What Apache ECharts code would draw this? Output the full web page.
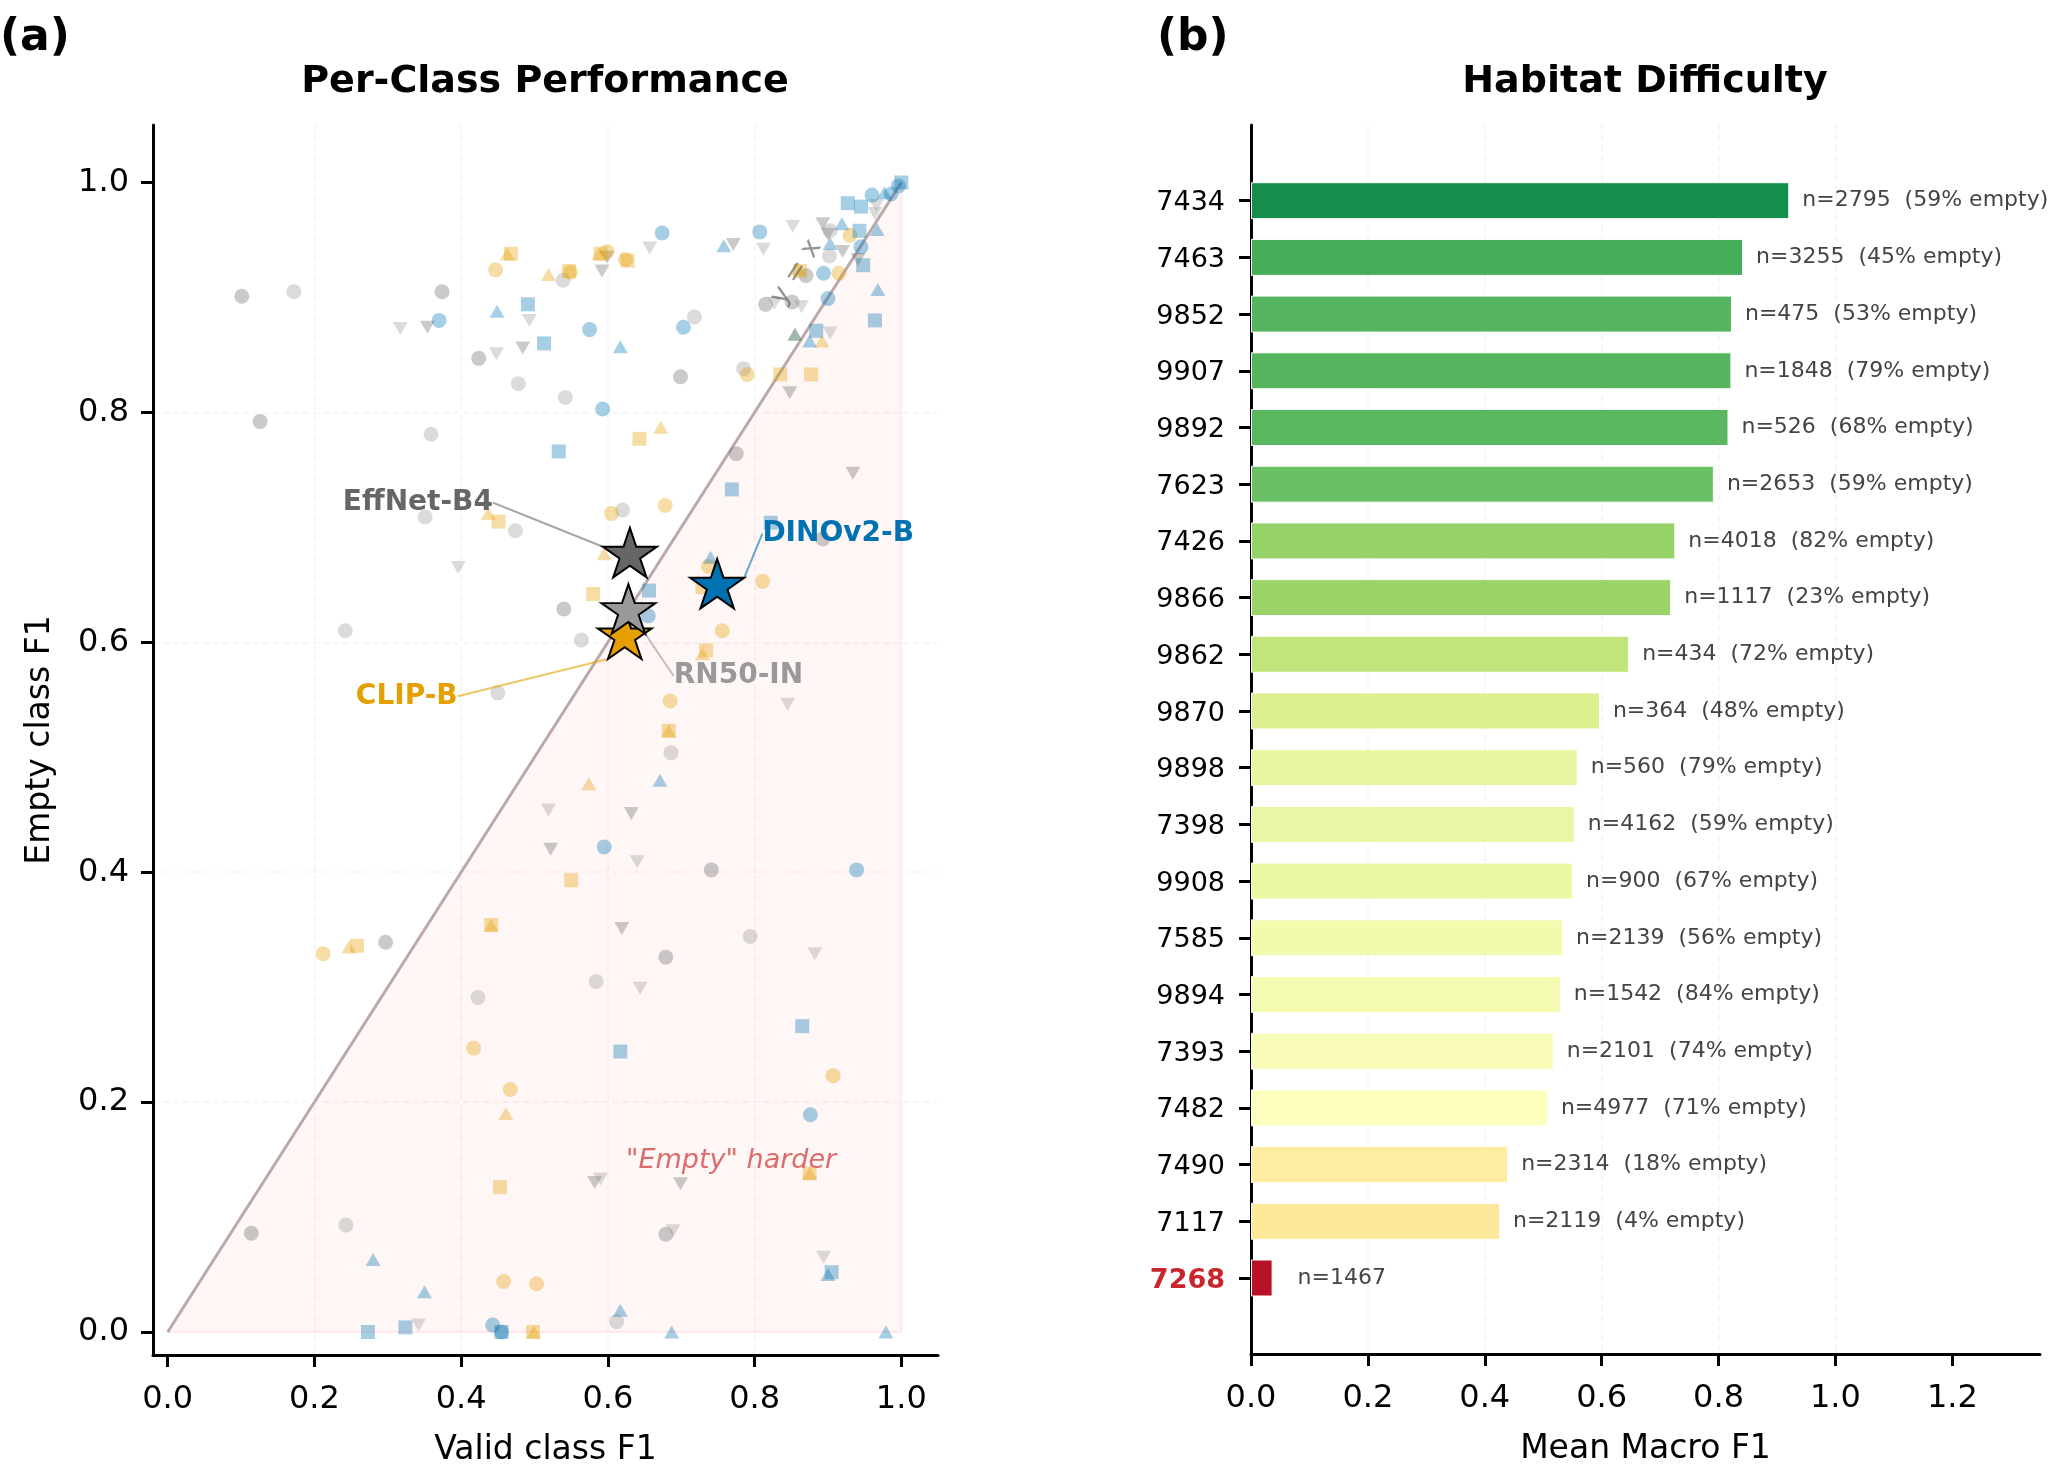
<!DOCTYPE html>
<html>
<head>
<meta charset="utf-8">
<title>Per-Class Performance / Habitat Difficulty</title>
<script src="https://cdn.jsdelivr.net/npm/echarts@6/dist/echarts.min.js"></script>
<style>
html, body { margin: 0; padding: 0; background: #fff; }
#chart { width: 2070px; height: 1478px; }
</style>
</head>
<body>
<div id="chart"></div>
<script>
// (a) per-class F1, [valid class F1, empty class F1], split by model and marker
var clipCircle = [[0.447,0.924],[0.549,0.922],[0.599,0.940],[0.624,0.933],[0.930,0.954],[0.915,0.921],[0.790,0.833],[0.605,0.712],[0.678,0.719],[0.737,0.666],[0.811,0.653],[0.756,0.610],[0.685,0.549],[0.212,0.329],[0.417,0.247],[0.467,0.211],[0.458,0.044],[0.503,0.042],[0.907,0.223]];
var clipSquare = [[0.468,0.938],[0.451,0.705],[0.547,0.923],[0.590,0.938],[0.627,0.932],[0.862,0.923],[0.835,0.833],[0.877,0.833],[0.643,0.777],[0.580,0.642],[0.729,0.648],[0.734,0.593],[0.683,0.523],[0.550,0.393],[0.258,0.336],[0.441,0.354],[0.453,0.126],[0.498,0.000],[0.875,0.138]];
var clipTriangle = [[0.463,0.938],[0.437,0.712],[0.519,0.920],[0.588,0.938],[0.860,0.925],[0.855,0.868],[0.892,0.862],[0.672,0.787],[0.595,0.677],[0.729,0.590],[0.683,0.523],[0.574,0.477],[0.247,0.335],[0.441,0.354],[0.461,0.190],[0.499,0.000],[0.875,0.138]];
var dinoCircle = [[0.370,0.880],[0.674,0.956],[0.807,0.957],[0.945,0.944],[0.960,0.989],[0.986,0.990],[0.996,0.997],[0.894,0.921],[0.900,0.899],[0.703,0.874],[0.575,0.872],[0.593,0.803],[0.655,0.623],[0.595,0.422],[0.939,0.402],[0.876,0.189],[0.443,0.006],[0.455,0.000]];
var dinoSquare = [[0.491,0.894],[0.513,0.860],[0.943,0.958],[0.927,0.982],[0.945,0.979],[1.000,1.000],[0.948,0.928],[0.964,0.880],[0.884,0.871],[0.533,0.766],[0.769,0.733],[0.822,0.704],[0.656,0.645],[0.617,0.244],[0.865,0.266],[0.905,0.052],[0.273,0.000],[0.324,0.004],[0.455,0.000]];
var dinoTriangle = [[0.449,0.888],[0.758,0.945],[0.919,0.964],[0.903,0.947],[0.977,0.991],[0.967,0.959],[0.968,0.907],[0.617,0.857],[0.855,0.868],[0.875,0.862],[0.740,0.674],[0.671,0.480],[0.280,0.063],[0.350,0.035],[0.900,0.050],[0.617,0.019],[0.687,0.000],[0.979,0.000]];
var effCircle = [[0.101,0.901],[0.374,0.905],[0.424,0.847],[0.126,0.792],[0.870,0.919],[0.815,0.894],[0.851,0.896],[0.699,0.831],[0.775,0.764],[0.540,0.629],[0.741,0.402],[0.297,0.339],[0.114,0.086],[0.679,0.326],[0.679,0.085],[0.893,0.690]];
var effTriDown = [[0.354,0.874],[0.484,0.856],[0.599,0.935],[0.592,0.923],[0.771,0.946],[0.893,0.964],[0.900,0.955],[0.941,0.933],[0.920,0.940],[0.848,0.817],[0.934,0.747],[0.632,0.451],[0.522,0.420],[0.619,0.351],[0.582,0.130],[0.699,0.129]];
var rnCircle = [[0.172,0.905],[0.478,0.825],[0.359,0.781],[0.351,0.709],[0.539,0.915],[0.903,0.958],[0.902,0.936],[0.718,0.883],[0.785,0.838],[0.542,0.813],[0.620,0.715],[0.474,0.697],[0.242,0.610],[0.450,0.556],[0.564,0.602],[0.686,0.504],[0.423,0.291],[0.243,0.093],[0.794,0.344],[0.584,0.305],[0.612,0.009]];
var rnTriDown = [[0.317,0.873],[0.493,0.880],[0.448,0.851],[0.657,0.943],[0.812,0.942],[0.852,0.962],[0.966,0.980],[0.964,0.973],[0.827,0.895],[0.864,0.892],[0.903,0.869],[0.396,0.665],[0.845,0.546],[0.519,0.454],[0.640,0.409],[0.882,0.329],[0.644,0.299],[0.590,0.133],[0.689,0.088],[0.894,0.065],[0.342,0.006]];

// model means (the stars)
var modelNames = ['CLIP-B', 'DINOv2-B', 'EffNet-B4', 'RN50-IN'];
var modelMeanValid = [0.623, 0.749, 0.630, 0.628];
var modelMeanEmpty = [0.607, 0.651, 0.678, 0.629];

var diagLine = [[0, 0], [1, 1]];
var harderEdge = [[0, 0], [1, 0], [1, 1]];
var diagLabelAt = [0.857, 0.922];
var harderLabelAt = [0.768, 0.149];
var f1Ticks = [0, 0.2, 0.4, 0.6, 0.8, 1.0];

// (b) habitat difficulty
var habitats = ['7434','7463','9852','9907','9892','7623','7426','9866','9862','9870','9898','7398','9908','7585','9894','7393','7482','7490','7117','7268'];
var meanF1 = [0.921, 0.842, 0.823, 0.822, 0.817, 0.792, 0.726, 0.719, 0.647, 0.597, 0.559, 0.554, 0.551, 0.534, 0.530, 0.518, 0.508, 0.440, 0.426, 0.037];
var nImages = [2795, 3255, 475, 1848, 526, 2653, 4018, 1117, 434, 364, 560, 4162, 900, 2139, 1542, 2101, 4977, 2314, 2119, 1467];
var emptyPct = [59, 45, 53, 79, 68, 59, 82, 23, 72, 48, 79, 59, 67, 56, 84, 74, 71, 18, 4, null];
var hardestHabitat = '7268';
var macroTicks = [0, 0.2, 0.4, 0.6, 0.8, 1.0, 1.2];

var modelColors = ['#E69F00', '#0072B2', '#666666', '#999999'];
var rdYlGn = ['#a50026','#d73027','#f46d43','#fdae61','#fee08b','#ffffbf','#d9ef8b','#a6d96a','#66bd63','#1a9850','#006837'];
var starPath = 'path://M0,-1 L0.2245,-0.309 L0.951,-0.309 L0.363,0.118 L0.588,0.809 L0,0.382 L-0.588,0.809 L-0.363,0.118 L-0.951,-0.309 L-0.2245,-0.309 Z';
var starLabelOffset = [[-218, 62], [121, -50], [-212, -50], [110, 67]];

var chart = echarts.init(document.getElementById('chart'));

function fmt1(v) { return v.toFixed(1); }

function cloud(name, data, color, symbol, size, rotate) {
	return {
		name: name, type: 'scatter', xAxisIndex: 0, yAxisIndex: 0,
		data: data, symbol: symbol, symbolSize: size, symbolRotate: rotate || 0,
		itemStyle: { color: color, opacity: 0.35 },
		emphasis: { disabled: true }, silent: true, z: 3
	};
}

var axisLineStyle = { show: true, onZero: false, lineStyle: { color: '#000', width: 3 } };
var gridDash = { show: true, showMinLine: false, showMaxLine: false, lineStyle: { color: 'rgba(0,0,0,0.05)', width: 1.5, type: [6, 4] } };

var series = [
	{
		// y = x diagonal with the "empty harder" region below it
		type: 'line', xAxisIndex: 0, yAxisIndex: 0, data: diagLine,
		showSymbol: false, silent: true, z: 1,
		lineStyle: { color: '#bba9a9', width: 3 },
		areaStyle: { color: 'rgba(255,0,0,0.05)', origin: 0 },
		markPoint: {
			symbol: 'circle', symbolSize: 1, silent: true,
			itemStyle: { color: 'rgba(0,0,0,0)' },
			label: { show: true, position: 'inside', formatter: '{b}' },
			data: [
				{ name: 'y = x', coord: diagLabelAt, label: { rotate: 57.5, color: 'rgba(90,90,90,0.65)', fontSize: 27 } },
				{ name: '"Empty" harder', coord: harderLabelAt, label: { color: '#dd6b6b', fontSize: 27, fontStyle: 'italic' } }
			]
		}
	},
	{
		type: 'line', xAxisIndex: 0, yAxisIndex: 0, data: harderEdge,
		showSymbol: false, silent: true, z: 1,
		lineStyle: { color: 'rgba(255,0,0,0.07)', width: 2 }
	},
	cloud('EffNet-B4', effCircle, modelColors[2], 'circle', 15),
	cloud('EffNet-B4', effTriDown, modelColors[2], 'triangle', [15, 13], 180),
	cloud('RN50-IN', rnCircle, modelColors[3], 'circle', 15),
	cloud('RN50-IN', rnTriDown, modelColors[3], 'triangle', [15, 13], 180),
	cloud('CLIP-B', clipCircle, modelColors[0], 'circle', 15),
	cloud('CLIP-B', clipSquare, modelColors[0], 'rect', 14),
	cloud('CLIP-B', clipTriangle, modelColors[0], 'triangle', [15, 13]),
	cloud('DINOv2-B', dinoCircle, modelColors[1], 'circle', 15),
	cloud('DINOv2-B', dinoSquare, modelColors[1], 'rect', 14),
	cloud('DINOv2-B', dinoTriangle, modelColors[1], 'triangle', [15, 13]),
	{
		type: 'scatter', xAxisIndex: 0, yAxisIndex: 0, z: 10, silent: true,
		symbol: starPath, symbolSize: [54, 52], symbolKeepAspect: true,
		itemStyle: { borderColor: '#000', borderWidth: 2, opacity: 1 },
		label: { show: true, position: 'inside', formatter: '{b}', fontSize: 28, fontWeight: 'bold' },
		labelLine: { show: true, lineStyle: { width: 2, opacity: 0.6 } },
		labelLayout: function (p) {
			var o = starLabelOffset[p.dataIndex];
			return { dx: o[0], dy: o[1] };
		},
		data: modelNames.map(function (m, i) {
			return {
				name: m,
				value: [modelMeanValid[i], modelMeanEmpty[i]],
				itemStyle: { color: modelColors[i] },
				label: { color: modelColors[i] },
				labelLine: { lineStyle: { color: modelColors[i] } }
			};
		})
	}
];

var barSeriesIndex = series.length;
series.push({
	type: 'bar', xAxisIndex: 2, yAxisIndex: 2, barWidth: 37, silent: true,
	itemStyle: { borderColor: '#fff', borderWidth: 1 },
	label: {
		show: true, position: 'right', distance: 13, color: '#444', fontSize: 22, padding: [3, 0, 0, 0],
		formatter: function (p) {
			var i = p.dataIndex;
			if (emptyPct[i] == null) return 'n=' + nImages[i];
			return 'n=' + nImages[i] + '  (' + emptyPct[i] + '% empty)';
		}
	},
	data: habitats.map(function (h, i) {
		var item = { value: [meanF1[i], h] };
		if (h === hardestHabitat) item.label = { distance: 25 };
		return item;
	})
});

var option = {
	animation: false,
	backgroundColor: '#fff',
	textStyle: { fontFamily: 'DejaVu Sans' },
	title: [
		{ text: '(a)', left: 0, top: 17, padding: 0, textStyle: { fontSize: 44, fontWeight: 'bold', color: '#000' } },
		{ text: 'Per-Class Performance', left: 545, top: 63, textAlign: 'center', padding: 0, textStyle: { fontSize: 38, fontWeight: 'bold', color: '#000' } },
		{ text: '(b)', left: 1157, top: 17, padding: 0, textStyle: { fontSize: 44, fontWeight: 'bold', color: '#000' } },
		{ text: 'Habitat Difficulty', left: 1645, top: 63, textAlign: 'center', padding: 0, textStyle: { fontSize: 38, fontWeight: 'bold', color: '#000' } }
	],
	visualMap: {
		show: false, type: 'continuous', seriesIndex: barSeriesIndex, dimension: 0,
		min: 0, max: 1, inRange: { color: rdYlGn }
	},
	grid: [
		{ left: 153, top: 125, width: 785, height: 1230, outerBoundsMode: 'none' },
		{ left: 1251, top: 125, width: 789, height: 1229, outerBoundsMode: 'none' },
		{ left: 1251, top: 172.35, width: 789, height: 1134, outerBoundsMode: 'none' }
	],
	xAxis: [
		{
			gridIndex: 0, type: 'value', min: -0.02, max: 1.05,
			axisLine: axisLineStyle,
			axisTick: { show: true, length: 12, lineStyle: { color: '#000', width: 3 }, customValues: f1Ticks },
			axisLabel: { customValues: f1Ticks, formatter: fmt1, fontSize: 32, color: '#000', margin: 29 },
			splitLine: gridDash,
			name: 'Valid class F1', nameLocation: 'middle', nameGap: 79,
			nameTextStyle: { fontSize: 33, color: '#000' }
		},
		{
			gridIndex: 1, type: 'value', min: 0, max: 1.35, splitNumber: 7,
			axisLine: axisLineStyle,
			axisTick: { show: true, length: 12, lineStyle: { color: '#000', width: 3 }, customValues: macroTicks },
			axisLabel: { customValues: macroTicks, formatter: fmt1, fontSize: 32, color: '#000', margin: 29 },
			splitLine: gridDash,
			name: 'Mean Macro F1', nameLocation: 'middle', nameGap: 79,
			nameTextStyle: { fontSize: 33, color: '#000' }
		},
		{ gridIndex: 2, type: 'value', min: 0, max: 1.35, show: false }
	],
	yAxis: [
		{
			gridIndex: 0, type: 'value', min: -0.02, max: 1.05,
			axisLine: axisLineStyle,
			axisTick: { show: true, length: 12, lineStyle: { color: '#000', width: 3 }, customValues: f1Ticks },
			axisLabel: { customValues: f1Ticks, formatter: fmt1, fontSize: 32, color: '#000', margin: 24, padding: [4, 0, 0, 0] },
			splitLine: gridDash,
			name: 'Empty class F1', nameLocation: 'middle', nameGap: 96, nameRotate: 90,
			nameTextStyle: { fontSize: 33, color: '#000' }
		},
		{
			gridIndex: 1, type: 'value', min: 0, max: 1,
			axisLine: axisLineStyle, axisTick: { show: false }, axisLabel: { show: false }, splitLine: { show: false }
		},
		{
			gridIndex: 2, type: 'category', data: habitats, inverse: true,
			axisLine: { show: false },
			axisTick: { show: true, alignWithLabel: true, length: 12, lineStyle: { color: '#000', width: 3 } },
			axisLabel: {
				fontSize: 27, color: '#000', margin: 26, padding: [5, 0, 0, 0],
				formatter: function (v) { return v === hardestHabitat ? '{hl|' + v + '}' : v; },
				rich: { hl: { color: '#c8252c', fontWeight: 'bold', fontSize: 27 } }
			},
			splitLine: { show: false }
		}
	],
	series: series
};

chart.setOption(option);
window.addEventListener('resize', chart.resize);
</script>
</body>
</html>
